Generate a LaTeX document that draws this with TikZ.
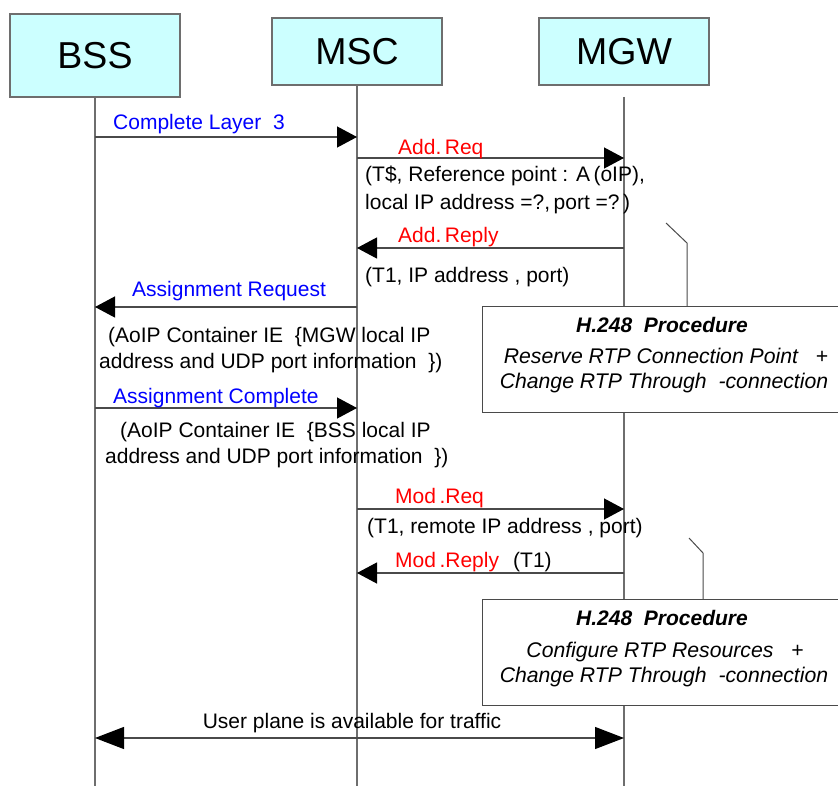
\documentclass[tikz,border=0pt]{standalone}
\usepackage{fontspec}
\setmainfont{Liberation Sans}
\usetikzlibrary{arrows.meta}
\definecolor{boxfill}{HTML}{CCFFFF}
\definecolor{lifegray}{HTML}{6E6E6E}
\definecolor{linegray}{HTML}{4A4A4A}
\definecolor{msgblue}{HTML}{0000FF}
\definecolor{msgred}{HTML}{FF0000}
\begin{document}
\begin{tikzpicture}[x=1pt,y=-1pt,
  entity/.style={draw=lifegray, line width=1.2pt, fill=boxfill, minimum width=170pt, inner sep=0pt, font=\fontsize{37.5}{42}\selectfont},
  life/.style={draw=lifegray, line width=1.2pt},
  msg/.style={draw=linegray, line width=1.2pt, -{Triangle[length=20pt,width=21pt,color=black]}},
  both/.style={draw=linegray, line width=1.2pt, {Triangle[length=29pt,width=22pt,color=black]}-{Triangle[length=29pt,width=22pt,color=black]}},
  lbl/.style={anchor=base west, inner sep=0pt, font=\fontsize{21}{25}\selectfont},
  bluelbl/.style={lbl, text=msgblue},
  redlbl/.style={lbl, text=msgred},
  hbox/.style={draw=linegray, line width=1.2pt, fill=white, anchor=north west, inner sep=0pt},
  htxt/.style={anchor=base, inner sep=0pt, font=\fontsize{21.2}{25}\selectfont\itshape},
  note/.style={draw=linegray, line width=1pt}]
\clip (0,0) rectangle (838,786);
\fill[white] (0,0) rectangle (838,786);

% entities
\node[entity, minimum height=83pt] (bss) at (95,55.5) {BSS};
\node[entity, minimum height=67pt] (msc) at (357,51.5) {MSC};
\node[entity, minimum height=67pt] (mgw) at (624,51.5) {MGW};

% lifeline ends
\coordinate (bssend) at (95,786);
\coordinate (mscend) at (357,786);
\coordinate (mgwtop) at (624,97);
\coordinate (mgwend) at (624,786);
\draw[life] (bss.south) -- (bssend);
\draw[life] (msc.south) -- (mscend);
\draw[life] (mgwtop) -- (mgwend);

% message anchor points
\coordinate (b1) at (95,137);  \coordinate (m1) at (357,137);
\coordinate (m2) at (357,158); \coordinate (g2) at (624,158);
\coordinate (g3) at (624,248); \coordinate (m3) at (357,248);
\coordinate (m4) at (357,307); \coordinate (b4) at (95,307);
\coordinate (b5) at (95,408);  \coordinate (m5) at (357,408);
\coordinate (m6) at (357,509); \coordinate (g6) at (624,509);
\coordinate (g7) at (624,573); \coordinate (m7) at (357,573);
\coordinate (b8) at (95,738);  \coordinate (g8) at (624,738);

% H.248 boxes
\node[hbox, minimum width=370pt, minimum height=106pt] (h1) at (482,306) {};
\node[hbox, minimum width=370pt, minimum height=106pt] (h2) at (482,599) {};

% messages
\draw[msg] (b1) -- (m1);
\node[bluelbl] (t1) at (113,130) {Complete Layer \ 3};

\draw[msg] (m2) -- (g2);
\node[redlbl] (t2) at (398,155) {Add.\,Req};
\node[lbl] (t2a) at (365,182) {(T\$, Reference point : A\,(oIP),};
\node[lbl] (t2b) at (365,210) {local IP address =?,\,port =?\,)};

\draw[msg] (g3) -- (m3);
\node[redlbl] (t3) at (398,243) {Add.\,Reply};
\node[lbl] (t3a) at (365,283) {(T1, IP address , port)};

\draw[msg] (m4) -- (b4);
\node[bluelbl] (t4) at (132,297) {Assignment Request};
\node[lbl] (t4a) at (108,342) {(AoIP Container IE \ \{MGW local IP};
\node[lbl] (t4b) at (99,368) {address and UDP port information \ \})};

\draw[msg] (b5) -- (m5);
\node[bluelbl] (t5) at (113,403) {Assignment Complete};
\node[lbl] (t5a) at (120,437) {(AoIP Container IE \ \{BSS local IP};
\node[lbl] (t5b) at (105,463) {address and UDP port information \ \})};

\draw[msg] (m6) -- (g6);
\node[redlbl] (t6) at (395,503) {Mod\,.Req};
\node[lbl] (t6a) at (367,533) {(T1, remote IP address , port)};

\draw[msg] (g7) -- (m7);
\node[redlbl] (t7) at (395,567) {Mod\,.Reply};
\node[lbl] (t7a) at (513,567) {(T1)};

\draw[both] (b8) -- (g8);
\node[anchor=base, inner sep=0pt, font=\fontsize{21}{25}\selectfont] (t8) at (352,728) {User plane is available for traffic};

% H.248 texts
\node[htxt, font=\fontsize{21}{25}\selectfont\bfseries\itshape] (h1a) at (662,333) {H.248 \ Procedure};
\node[htxt] (h1b) at (666,363) {Reserve RTP Connection Point \ \ +};
\node[htxt] (h1c) at (664,388) {Change RTP Through \ -connection};

\node[htxt, font=\fontsize{21}{25}\selectfont\bfseries\itshape] (h2a) at (662,625) {H.248 \ Procedure};
\node[htxt] (h2b) at (665,657) {Configure RTP Resources \ \ +};
\node[htxt] (h2c) at (664,682) {Change RTP Through \ -connection};

% note connectors
\coordinate (n1a) at (666,223); \coordinate (n1b) at (687,243);
\draw[note] (n1a) -- (n1b) -- (n1b |- h1.north);
\coordinate (n2a) at (689,538); \coordinate (n2b) at (703,553);
\draw[note] (n2a) -- (n2b) -- (n2b |- h2.north);
\end{tikzpicture}
\end{document}
